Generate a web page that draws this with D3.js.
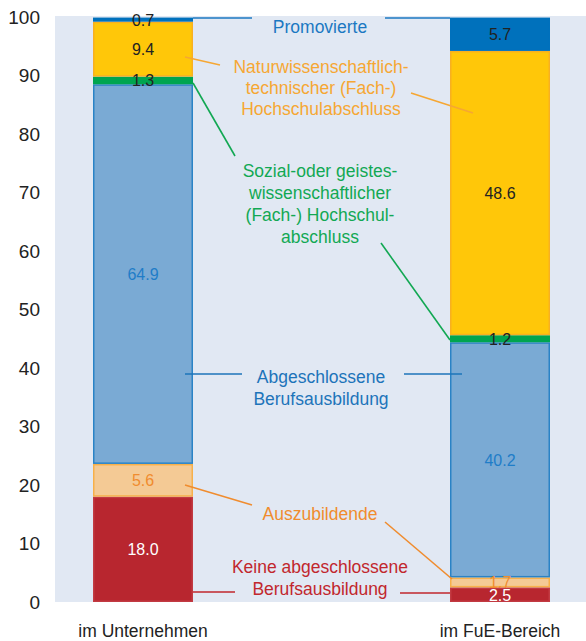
<!DOCTYPE html>
<html><head><meta charset="utf-8">
<script src="https://cdn.jsdelivr.net/npm/d3@7"></script>
<style>body{margin:0;background:#fff}svg{display:block;font-family:"Liberation Sans",Arial,sans-serif}</style>
</head><body><svg id="c" width="586" height="641"></svg>
<script>
const categories = ["im Unternehmen", "im FuE-Bereich"];
const seriesNames = ["Keine abgeschlossene Berufsausbildung", "Auszubildende", "Abgeschlossene Berufsausbildung", "Sozial-oder geisteswissenschaftlicher (Fach-) Hochschulabschluss", "Naturwissenschaftlich-technischer (Fach-) Hochschulabschluss", "Promovierte"];
const keine = [18.0, 2.5];
const azubi = [5.6, 1.7];
const beruf = [64.9, 40.2];
const sozial = [1.3, 1.2];
const natur = [9.4, 48.6];
const promo = [0.7, 5.7];
const yTicks = [0, 10, 20, 30, 40, 50, 60, 70, 80, 90, 100];

const seriesValues = [keine, azubi, beruf, sozial, natur, promo];
const fills = ["#b8262f", "#f4ca95", "#7aaad4", "#00a54f", "#ffc709", "#0071bc"];
const strokes = ["#c23a42", "#f7b04a", "#2a83c6", "#00a54f", "#f8b020", "#0071bc"];
const valColors = ["#ffffff", "#f08c2e", "#1f7dc8", "#222", "#222", "#222"];
const annColors = ["#c1272d", "#f08c2e", "#1d74ba", "#12a853", "#f6a733", "#1b78c2"];
const annLines = [
  ["Keine abgeschlossene", "Berufsausbildung"],
  ["Auszubildende"],
  ["Abgeschlossene", "Berufsausbildung"],
  ["Sozial-oder geistes-", "wissenschaftlicher", "(Fach-) Hochschul-", "abschluss"],
  ["Naturwissenschaftlich-", "technischer (Fach-)", "Hochschulabschluss"],
  ["Promovierte"]
];
// annotation layout (pixels)
const annLayout = [
  {x: 320, y: 573, lh: 22, leaders: [[193,592,235,592],[400,593,450,593]]},
  {x: 320, y: 520, lh: 22, leaders: [[185,485,252,505],[385,522,452,579]]},
  {x: 321, y: 383, lh: 22, leaders: [[185,374,242,374],[404,374,462,374]]},
  {x: 320, y: 177, lh: 22, leaders: [[193,83,235,156],[381,243,450,340]]},
  {x: 321, y: 73, lh: 21, leaders: [[185,57,220,65],[411,93,473,113]]},
  {x: 320, y: 33, lh: 21, leaders: [[193,18,252,18],[385,18,450,18]]}
];

const svg = d3.select("#c");
const y = d3.scaleLinear().domain([0, 100]).range([602, 17]);
const x = d3.scalePoint().domain(categories).range([143, 500]);
const bw = 100;

svg.append("rect").attr("x", 55).attr("y", 16).attr("width", 531).attr("height", 586).attr("fill", "#e1e8f3");

// y axis
const yAxis = d3.axisLeft(y).tickValues(yTicks).tickSize(0).tickPadding(0);
const ga = svg.append("g").attr("transform", "translate(40,0)").call(yAxis);
ga.select(".domain").remove();
ga.selectAll("text").attr("font-size", 19).attr("fill", "#222").attr("font-family", "Liberation Sans, Arial, sans-serif");

// stacks
const rows = categories.map((c, i) => {
  const o = {cat: c};
  seriesNames.forEach((s, k) => o[s] = seriesValues[k][i]);
  return o;
});
const stack = d3.stack().keys(seriesNames)(rows);

stack.forEach((layer, k) => {
  const g = svg.append("g");
  g.selectAll("rect").data(layer).join("rect")
    .attr("x", d => x(d.data.cat) - bw / 2 + 0.75)
    .attr("width", bw - 1.5)
    .attr("y", d => y(d[1]) + 0.75)
    .attr("height", d => Math.max(0, y(d[0]) - y(d[1]) - 1.5))
    .attr("fill", fills[k]).attr("stroke", strokes[k]).attr("stroke-width", 1.5);
});

// annotations (leaders)
annLayout.forEach((a, k) => {
  a.leaders.forEach(l => {
    svg.append("line").attr("x1", l[0]).attr("y1", l[1]).attr("x2", l[2]).attr("y2", l[3])
      .attr("stroke", annColors[k]).attr("stroke-width", 1.6);
  });
  const t = svg.append("text").attr("text-anchor", "middle").attr("font-size", 17.5).attr("fill", annColors[k]);
  annLines[k].forEach((ln, j) => {
    t.append("tspan").attr("x", a.x).attr("y", a.y + j * a.lh).text(ln);
  });
});

// value labels
stack.forEach((layer, k) => {
  svg.append("g").selectAll("text").data(layer).join("text")
    .attr("x", d => x(d.data.cat))
    .attr("y", d => (y(d[0]) + y(d[1])) / 2 + 6)
    .attr("text-anchor", "middle").attr("font-size", 16)
    .attr("fill", valColors[k])
    .text(d => (d[1] - d[0]).toFixed(1));
});

// category labels
svg.append("g").selectAll("text").data(categories).join("text")
  .attr("x", d => x(d)).attr("y", 637).attr("text-anchor", "middle")
  .attr("font-size", 17.5).attr("fill", "#222").text(d => d);
</script></body></html>
